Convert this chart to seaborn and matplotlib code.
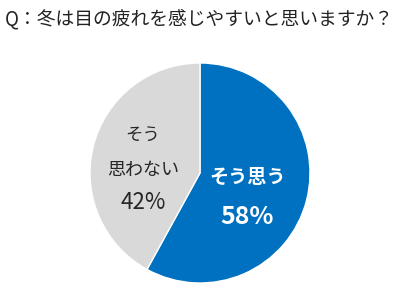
import matplotlib
matplotlib.use("Agg")
import matplotlib.pyplot as plt
import seaborn as sns

title = "Q：冬は目の疲れを感じやすいと思いますか？"
categories = ["そう思う", "そう思わない"]
values = [58, 42]
colors = ["#0070C0", "#D9D9D9"]

sns.set_style("white")
plt.rcParams['font.family'] = ['Noto Sans CJK JP', 'DejaVu Sans']

W, H = 400, 295
fig = plt.figure(figsize=(W / 100, H / 100), dpi=100)
fig.patch.set_facecolor("white")

cx, cy, r = 200, 173, 110
ax = fig.add_axes([(cx - r) / W, (H - cy - r) / H, 2 * r / W, 2 * r / H])
ax.pie(values, colors=colors, startangle=90, counterclock=False,
       wedgeprops=dict(edgecolor="white", linewidth=1.0))
ax.set_xlim(-1, 1)
ax.set_ylim(-1, 1)
ax.axis("off")

ax.text(0.43, -0.04, categories[0], ha="center", va="center", fontsize=13.8,
        fontweight="bold", color="white")
ax.text(0.43, -0.40, f"{values[0]}%", ha="center", va="center", fontsize=18,
        fontweight="bold", color="white")
ax.text(-0.52, 0.345, "そう", ha="center", va="center", fontsize=12.5, color="#262626")
ax.text(-0.52, 0.027, "思わない", ha="center", va="center", fontsize=13, color="#262626")
ax.text(-0.52, -0.27, f"{values[1]}%", ha="center", va="center", fontsize=16, color="#262626")

fig.text(5 / W, 1 - 19 / H, title, ha="left", va="center", fontsize=13.5, color="#222222")

fig.savefig("out.png", dpi=100, facecolor="white")
